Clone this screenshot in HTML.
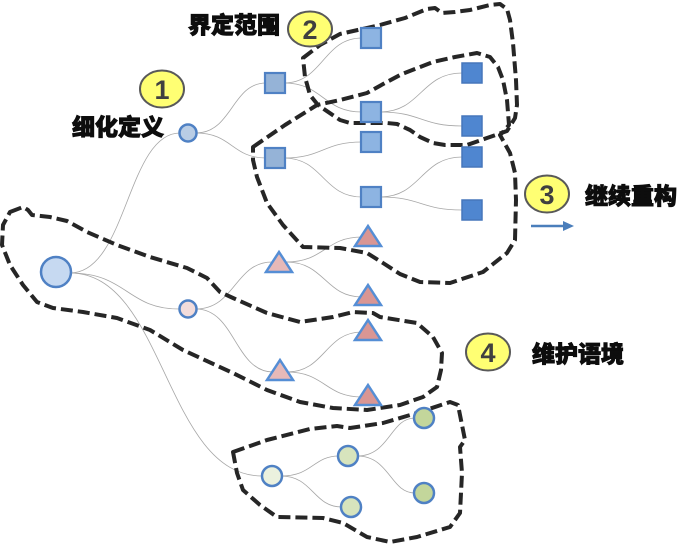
<!DOCTYPE html>
<html>
<head>
<meta charset="utf-8">
<style>
html,body{margin:0;padding:0;background:#fff;}
svg{display:block;}
.lbl{font-family:"Liberation Sans","Noto Sans CJK SC",sans-serif;font-weight:900;font-size:23px;fill:#0d0d0d;stroke:#0d0d0d;stroke-width:0.9px;paint-order:stroke;}
.num{font-family:"Liberation Sans","DejaVu Sans",sans-serif;font-weight:bold;font-size:27px;fill:#404040;}
</style>
</head>
<body>
<svg width="695" height="544" viewBox="0 0 695 544" xmlns="http://www.w3.org/2000/svg">
<!-- connectors -->
<g fill="none" stroke="#a6a6a6" stroke-width="0.8">
<path d="M70,273 C127,273 127,133 180,133"/>
<path d="M70,273 C127,273 127,309 179,309"/>
<path d="M70,273 C165,273 165,476 262,476"/>
<path d="M196,133 C232,133 232,83 266,83"/>
<path d="M196,133 C232,133 232,158 266,158"/>
<path d="M284,83 C323,83 323,38 362,38"/>
<path d="M284,83 C323,83 323,112 362,112"/>
<path d="M284,158 C323,158 323,142 362,142"/>
<path d="M284,158 C323,158 323,197 362,197"/>
<path d="M380,112 C421,112 421,73 462,73"/>
<path d="M380,112 C421,112 421,126 462,126"/>
<path d="M380,197 C421,197 421,157 462,157"/>
<path d="M380,197 C421,197 421,210 462,210"/>
<path d="M196,309 C235,309 235,262 272,262"/>
<path d="M196,309 C235,309 235,372 273,372"/>
<path d="M286,262 C325,262 325,237 362,237"/>
<path d="M286,262 C325,262 325,297 362,297"/>
<path d="M287,372 C325,372 325,332 362,332"/>
<path d="M287,372 C325,372 325,397 362,397"/>
<path d="M281,476 C313,476 313,456 339,456"/>
<path d="M281,476 C313,476 313,507 342,507"/>
<path d="M357,456 C390,456 390,418 415,418"/>
<path d="M357,456 C390,456 390,493 415,493"/>
</g>

<!-- dashed outlines -->
<g fill="none" stroke="#262626" stroke-width="4" stroke-dasharray="12,5" stroke-linejoin="round" stroke-linecap="butt">
<!-- A region 2 -->
<path d="M303,58 L320,45 L340,34 L380,25 L405,18 L427,9 L435,8 L442,13 L455,12 L470,10 L490,5 L500,4 L507,9 L510,20 L513,43 L516,80 L517,105 L515,118 L507,131 L487,138 L467,145 L445,145 L433,143 L420,137 L410,130 L397,124 L387,123 L350,123 L340,120 L318,105 L310,95 L305,77 Z"/>
<!-- B region 3 -->
<path d="M253,147 L285,125 L317,105 L340,100 L367,93 L385,83 L402,74 L433,62 L455,57 L477,53 L490,57 L498,67 L503,80 L507,100 L509,125 L503,132 L500,135 L510,153 L515,173 L516,200 L515,240 L507,253 L483,272 L450,283 L420,282 L400,274 L383,263 L367,253 L340,248 L303,247 L283,225 L267,203 L257,177 L253,160 Z"/>
<!-- C region 4 -->
<path d="M10,212 L23,207 L28,210 L32,215 L50,217 L67,221 L87,232 L117,245 L150,257 L187,268 L207,278 L220,292 L233,298 L267,313 L300,322 L333,317 L353,312 L373,313 L380,317 L417,323 L433,337 L442,353 L441,370 L437,387 L423,397 L400,405 L367,410 L333,408 L300,402 L267,390 L233,373 L183,350 L150,330 L117,318 L83,312 L53,308 L37,302 L23,285 L10,265 L2,245 L3,225 Z"/>
<!-- D green region -->
<path d="M233,452 L267,440 L310,429 L337,426 L350,428 L383,423 L417,413 L450,402 L458,405 L465,440 L460,447 L462,473 L460,513 L450,527 L417,537 L390,542 L367,537 L343,523 L323,518 L277,517 L260,505 L243,490 L237,473 Z"/>
</g>

<!-- circles -->
<g stroke="#4f81c4" stroke-width="2.5">
<circle cx="56" cy="272" r="15" fill="#c6d9f1"/>
<circle cx="188" cy="133" r="8.5" fill="#b9cde5"/>
<circle cx="188" cy="309" r="8.5" fill="#f2dcdb"/>
<circle cx="272" cy="476" r="10" fill="#ebf1de"/>
<circle cx="348" cy="456" r="10" fill="#d7e4bd"/>
<circle cx="351" cy="507" r="10" fill="#d7e4bd"/>
<circle cx="424" cy="418" r="10" fill="#c3d69b"/>
<circle cx="424" cy="493" r="10" fill="#c3d69b"/>
</g>

<!-- squares -->
<g stroke="#4f81c4" stroke-width="2.2">
<rect x="265" y="73" width="20" height="20" fill="#95b3d7"/>
<rect x="265" y="148" width="20" height="20" fill="#95b3d7"/>
<rect x="361" y="28" width="20" height="20" fill="#8db4e2"/>
<rect x="361" y="102" width="20" height="20" fill="#8db4e2"/>
<rect x="361" y="132" width="20" height="20" fill="#8db4e2"/>
<rect x="361" y="187" width="20" height="20" fill="#8db4e2"/>
</g>
<g stroke="#4677bb" stroke-width="1.5" fill="#4f86d0">
<rect x="462" y="63" width="20" height="20"/>
<rect x="462" y="116" width="20" height="20"/>
<rect x="462" y="147" width="20" height="20"/>
<rect x="462" y="200" width="20" height="20"/>
</g>

<!-- triangles -->
<g stroke="#558ed5" stroke-width="2.5" stroke-linejoin="miter">
<polygon points="279,252 292,272 266,272" fill="#e6b9b8"/>
<polygon points="280,360 293,380 267,380" fill="#e6b9b8"/>
<polygon points="368,226 381,246 355,246" fill="#d99694"/>
<polygon points="368,285 381,305 355,305" fill="#d99694"/>
<polygon points="368,320 381,340 355,340" fill="#d99694"/>
<polygon points="368,385 381,405 355,405" fill="#d99694"/>
</g>

<!-- badges -->
<g fill="#ffff73" stroke="#595959" stroke-width="2">
<ellipse cx="162" cy="89" rx="22" ry="18.5"/>
<ellipse cx="310" cy="29" rx="22" ry="17.5"/>
<ellipse cx="547" cy="194" rx="22" ry="18.5"/>
<ellipse cx="488" cy="352" rx="22" ry="18.5"/>
</g>
<text class="num" x="162" y="99" text-anchor="middle">1</text>
<text class="num" x="310" y="39" text-anchor="middle">2</text>
<text class="num" x="547" y="204" text-anchor="middle">3</text>
<text class="num" x="488" y="362" text-anchor="middle">4</text>

<!-- labels -->
<text class="lbl" x="72" y="135">细化定义</text>
<text class="lbl" x="188" y="33">界定范围</text>
<text class="lbl" x="585" y="204">继续重构</text>
<text class="lbl" x="532" y="362">维护语境</text>

<!-- arrow -->
<line x1="531" y1="226" x2="565" y2="226" stroke="#4a7ebb" stroke-width="2.5"/>
<polygon points="563,221 574,226 563,231" fill="#4a7ebb"/>
</svg>
</body>
</html>
